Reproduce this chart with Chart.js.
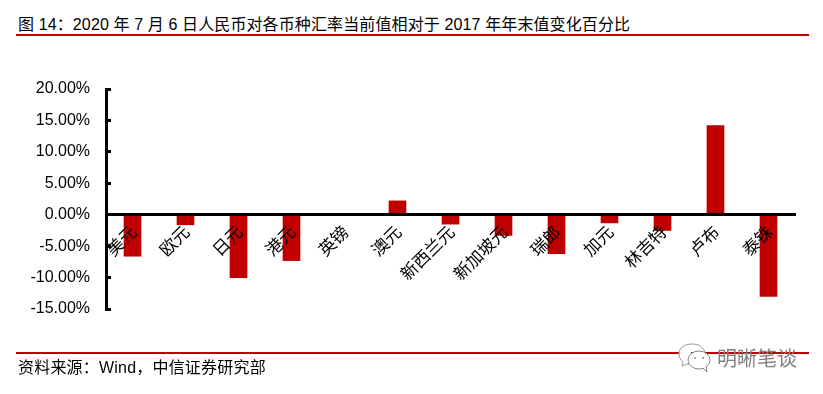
<!DOCTYPE html>
<html>
<head>
<meta charset="utf-8">
<script src="https://cdn.jsdelivr.net/npm/chart.js@4"></script>
<style>
    html, body { margin: 0; padding: 0; background: #fff; }
    #wrap { position: relative; width: 823px; height: 394px; overflow: hidden; font-family: "Liberation Sans", "Noto Sans CJK SC", sans-serif; color: #000; }
    #chart { position: absolute; left: 0; top: 0; }
    .rule { position: absolute; left: 16px; width: 793px; background: #c00000; }
    .note { position: absolute; font-size: 16px; line-height: 20px; white-space: nowrap; }
    #mark { position: absolute; left: 717px; top: 347px; font-size: 20px; line-height: 24px; color: #808080; white-space: nowrap; }
    #bubble { position: absolute; left: 678px; top: 343px; }
</style>
</head>
<body>
<div id="wrap">
    <div class="note" style="left:18px;top:15px;letter-spacing:.12px">图 14：2020 年 7 月 6 日人民币对各币种汇率当前值相对于 2017 年年末值变化百分比</div>
    <div class="rule" style="top:34px;height:2px"></div>
    <canvas id="chart" width="823" height="394"></canvas>
    <div class="rule" style="top:352px;height:2px"></div>
    <div class="note" style="left:18px;top:358px;letter-spacing:.2px">资料来源：Wind，中信证券研究部</div>
    <svg id="bubble" width="34" height="30" viewBox="0 0 34 30">
        <path d="M14 1C6 1 1 5 1 11c0 4 2 6 4 8l-1 4 5-2c1 .3 2 .5 3 .5" fill="#fff" stroke="#999"/>
        <path d="M14 1c7 0 11 3 13 8" fill="none" stroke="#999"/>
        <ellipse cx="21" cy="17" rx="11" ry="9" fill="#fff" stroke="#888"/>
        <path d="M25 25l4 4-1-6" fill="#fff" stroke="#888"/>
        <circle cx="17" cy="15" r="1" fill="#888"/>
        <circle cx="25" cy="15" r="1" fill="#888"/>
    </svg>
    <div id="mark">明晰笔谈</div>
</div>
<script>
    // Data
    var categories = ['美元', '欧元', '日元', '港元', '英镑', '澳元', '新西兰元', '新加坡元', '瑞郎', '加元', '林吉特', '卢布', '泰铢'];
    var changePct = [-6.6, -1.6, -10.0, -7.3, 0, 2.2, -1.5, -3.3, -6.2, -1.3, -2.5, 14.2, -13.0];

    var fontFamily = '"Liberation Sans", "Noto Sans CJK SC", sans-serif';

    new Chart(document.getElementById('chart').getContext('2d'), {
        type: 'bar',
        data: {
            labels: categories,
            datasets: [{
                data: changePct,
                backgroundColor: '#c00000',
                barThickness: 17
            }]
        },
        options: {
            responsive: false,
            animation: false,
            layout: { padding: { top: 89, bottom: 85, right: 28 } },
            plugins: { legend: { display: false }, tooltip: { enabled: false } },
            scales: {
                x: {
                    position: { y: 0 },
                    grid: { drawOnChartArea: false, drawTicks: false },
                    border: { color: '#000', width: 3, z: 2 },
                    ticks: {
                        z: 1,
                        color: '#000',
                        font: { family: fontFamily, size: 17 },
                        autoSkip: false,
                        minRotation: 45,
                        maxRotation: 45,
                        labelOffset: 2,
                        padding: 8
                    }
                },
                y: {
                    min: -15,
                    max: 20,
                    afterFit: function (scale) { scale.width = 106; },
                    grid: { drawOnChartArea: false, tickLength: -5, lineWidth: 3, color: '#000' },
                    border: { color: '#000', width: 3, z: 2 },
                    ticks: {
                        stepSize: 5,
                        color: '#000',
                        font: { family: fontFamily, size: 16 },
                        padding: 21,
                        callback: function (v) { return v.toFixed(2) + '%'; }
                    }
                }
            }
        }
    });
</script>
</body>
</html>
